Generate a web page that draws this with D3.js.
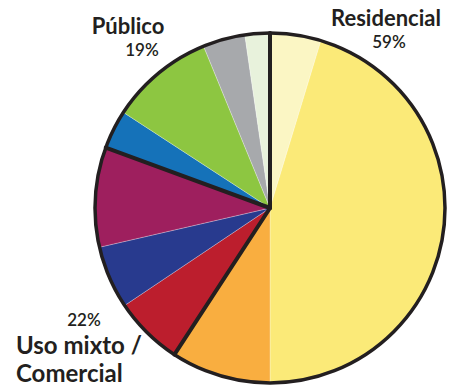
<!DOCTYPE html>
<meta charset="utf-8">
<style>
  body { margin: 0; background: #fff; }
  text { font-family: Lato, "Open Sans", sans-serif; fill: #231f20; }
</style>
<body>
<svg width="464" height="390"></svg>
<script src="https://d3js.org/d3.v7.min.js"></script>
<script>
// slices, clockwise from 12 o'clock
var names = ["res1", "res2", "res3", "mix1", "mix2", "mix3", "pub1", "pub2", "pub3", "pub4"];
var values = [4.7, 45.3, 9.2, 6.4, 5.8, 9.2, 3.6, 9.6, 3.9, 2.3];
var colors = ["#fbf6c4", "#fbea78", "#f9ae40", "#bc1e2d", "#283a8e", "#9e1f5e", "#1572b9", "#8dc641", "#a7a9ac", "#e8f2dc"];
// groups: label, percent, last slice index of group
var groupNames = ["Residencial", "Uso mixto / Comercial", "Público"];
var groupPct = ["59%", "22%", "19%"];
var groupEnds = [2, 5, 9];

var svg = d3.select("svg"),
    cx = 270, cy = 208, r = 175;

var g = svg.append("g").attr("transform", "translate(" + cx + "," + cy + ")");

var pie = d3.pie().sort(null).value(function(d) { return d; });
var arcs = pie(values);
var arc = d3.arc().innerRadius(0).outerRadius(r);

g.selectAll("path.slice")
  .data(arcs)
  .enter().append("path")
  .attr("class", "slice")
  .attr("d", arc)
  .attr("fill", function(d, i) { return colors[i]; })
  .attr("stroke", "rgba(255,255,255,0.45)")
  .attr("stroke-width", 0.6);

// thick dividers between groups
var cuts = [0].concat(groupEnds.slice(0, 2).map(function(i) { return arcs[i].endAngle; }));
g.selectAll("line.cut")
  .data(cuts)
  .enter().append("line")
  .attr("x1", 0).attr("y1", 0)
  .attr("x2", function(a) { return r * Math.sin(a); })
  .attr("y2", function(a) { return -r * Math.cos(a); })
  .attr("stroke", "#231f20")
  .attr("stroke-width", 4)
  .attr("stroke-linecap", "round");

g.append("circle")
  .attr("r", r)
  .attr("fill", "none")
  .attr("stroke", "#231f20")
  .attr("stroke-width", 3.5);

// labels
function bold(x, y, s, anchor, size) {
  svg.append("text").attr("x", x).attr("y", y)
    .attr("text-anchor", anchor || "middle")
    .style("font-size", (size || 22) + "px").style("font-weight", 700).text(s);
}
function pct(x, y, s) {
  svg.append("text").attr("x", x).attr("y", y)
    .attr("text-anchor", "middle")
    .style("font-size", "17px").style("font-weight", 600).text(s);
}

bold(386, 26, groupNames[0]);
pct(389, 48, groupPct[0]);

bold(128, 34, groupNames[2]);
pct(142, 56, groupPct[2]);

pct(84, 326, groupPct[1]);
bold(16, 354, "Uso mixto /", "start", 24);
bold(16, 382, "Comercial", "start", 24);
</script>
</body>
